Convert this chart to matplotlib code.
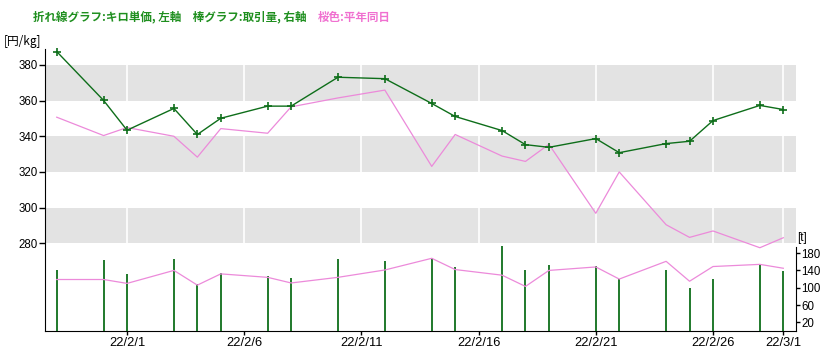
import matplotlib
matplotlib.use("Agg")
import matplotlib.pyplot as plt
import matplotlib.dates as mdates
from matplotlib.ticker import FixedLocator, FuncFormatter
import pandas as pd

dates = ["2022-01-29", "2022-01-31", "2022-02-01", "2022-02-03", "2022-02-04",
         "2022-02-05", "2022-02-07", "2022-02-08", "2022-02-10", "2022-02-12",
         "2022-02-14", "2022-02-15", "2022-02-17", "2022-02-18", "2022-02-19",
         "2022-02-21", "2022-02-22", "2022-02-24", "2022-02-25", "2022-02-26",
         "2022-02-28", "2022-03-01"]
price = [387.5, 360.1, 343.4, 355.6, 341.0, 350.1, 356.9, 356.9, 373.1, 372.3,
         358.4, 351.1, 343.2, 335.3, 333.8, 338.7, 330.8, 335.9, 337.2, 348.8,
         357.3, 355.0]
price_normal = [350.7, 340.4, 344.9, 340.0, 328.3, 344.3, 341.7, 356.5, 361.5, 365.9,
                323.1, 341.0, 328.9, 325.9, 335.5, 296.8, 320.0, 290.4, 283.3, 286.9,
                277.5, 283.1]
volume = [141, 164, 132, 166, 108, 134, 127, 122, 166, 162,
          169, 147, 196, 142, 152, 150, 120, 142, 100, 121,
          153, 139]
volume_normal = [119, 119, 110, 140, 106, 132, 124, 111, 124, 141,
                 168, 142, 129, 103, 140, 148, 120, 161, 115, 149,
                 154, 145]
tick_dates = ["2022-02-01", "2022-02-06", "2022-02-11", "2022-02-16",
              "2022-02-21", "2022-02-26", "2022-03-01"]
left_ticks = [280, 300, 320, 340, 360, 380]
right_ticks = [20, 60, 100, 140, 180]

W, H = 839, 363
fig = plt.figure(figsize=(W / 100, H / 100), dpi=100)
fig.patch.set_facecolor("white")

x0, x1, yb, yt = 45, 796, 331, 48
ax = fig.add_axes([x0 / W, 1 - yb / H, (x1 - x0) / W, (yb - yt) / H])
ax.set_facecolor("white")

xd = pd.to_datetime(dates)
xt = pd.to_datetime(tick_dates)
GREEN = "#0e6e1a"
PINK = "#ec8ada"

# background bands
for lo, hi in [(360, 380), (320, 340), (280, 300)]:
    ax.axhspan(lo, hi, color="#e3e3e3", lw=0, zorder=0)
for t in xt:
    ax.axvline(t, color="white", lw=1.2, zorder=0.5)

ax.plot(xd, price_normal, color=PINK, lw=0.9, zorder=2)
ax.plot(xd, price, color=GREEN, lw=1.0, marker="+", ms=5.5, mew=1.2, zorder=3)

start = pd.Timestamp("2022-01-28 12:00")
end = pd.Timestamp("2022-03-01 13:00")
ax.set_xlim(start, end)
ax.set_ylim(230.8, 389.5)

ax.spines["top"].set_visible(False)
ax.spines["right"].set_visible(False)
ax.spines["left"].set_bounds(230.8, 389.0)
ax.yaxis.set_major_locator(FixedLocator(left_ticks))
ax.tick_params(axis="y", direction="out", length=4, width=1, labelsize=8.3, pad=1)
ax.xaxis.set_major_locator(FixedLocator(mdates.date2num(xt)))
ax.xaxis.set_major_formatter(FuncFormatter(
    lambda v, p: (lambda d: f"{d.year % 100}/{d.month}/{d.day}")(mdates.num2date(v))))
ax.tick_params(axis="x", direction="out", length=3, width=1, labelsize=9.3, pad=1)
for lab in ax.get_xticklabels() + ax.get_yticklabels():
    lab.set_family("Liberation Sans")

ax2 = ax.twinx()
ax2.vlines(xd, 0, volume, color=GREEN, lw=1.3, zorder=3)
ax2.plot(xd, volume_normal, color=PINK, lw=0.9, zorder=4)
ax2.set_ylim(0, 654)
ax2.set_xlim(start, end)
ax2.spines["top"].set_visible(False)
ax2.spines["left"].set_visible(False)
ax2.spines["bottom"].set_visible(False)
ax2.spines["right"].set_bounds(0, 194)
ax2.yaxis.set_major_locator(FixedLocator(right_ticks))
ax2.tick_params(axis="y", direction="out", length=3, width=1, labelsize=8.3, pad=1)
for lab in ax2.get_yticklabels():
    lab.set_family("Liberation Sans")

jp = ["Noto Sans CJK JP", "DejaVu Sans"]
fig.text(33 / W, 1 - 17 / H, "折れ線グラフ:キロ単価, 左軸　棒グラフ:取引量, 右軸",
         color="#1f8f1f", fontsize=8.3, family=jp, weight="bold", va="center", ha="left")
fig.text(318 / W, 1 - 17 / H, "桜色:平年同日",
         color="#f070d0", fontsize=8.3, family=jp, weight="bold", va="center", ha="left")
fig.text(4 / W, 1 - 41 / H, "[円/kg]", color="black", fontsize=8.5,
         family=jp, va="center", ha="left")
fig.text(797 / W, 1 - 238 / H, "[t]", color="black", fontsize=8.5,
         family=["Liberation Sans"], va="center", ha="left")

fig.savefig("out.png", dpi=100)
